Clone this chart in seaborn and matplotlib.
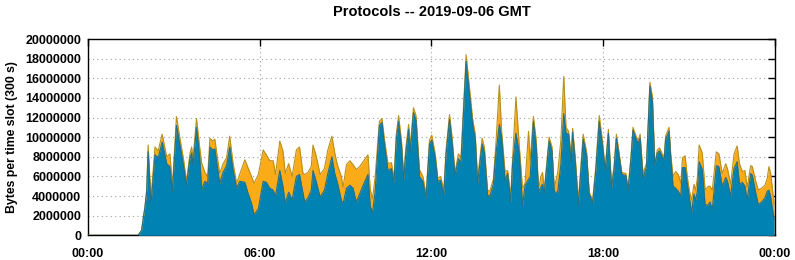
import numpy as np
import pandas as pd
import matplotlib
matplotlib.use("Agg")
import matplotlib.pyplot as plt
import seaborn as sns

# hour of day of each sample, stacked total (top of orange) and blue layer, in millions of bytes
hours = [
    0.00, 1.75, 1.87, 1.99, 2.05, 2.10, 2.20, 2.34, 2.45, 2.59, 2.75, 2.86, 2.95, 3.09, 3.21, 3.33,
    3.44, 3.56, 3.62, 3.67, 3.79, 3.90, 3.97, 4.08, 4.18, 4.26, 4.35, 4.43, 4.60, 4.72, 4.84, 4.95,
    5.07, 5.19, 5.30, 5.48, 5.59, 5.71, 5.80, 5.95, 6.12, 6.23, 6.35, 6.47, 6.55, 6.70, 6.81, 6.89,
    7.01, 7.13, 7.28, 7.39, 7.51, 7.57, 7.68, 7.80, 7.86, 7.97, 8.11, 8.26, 8.38, 8.52, 8.62, 8.71,
    8.85, 8.91, 9.03, 9.15, 9.26, 9.37, 9.49, 9.61, 9.78, 9.86, 9.94, 10.03, 10.18, 10.27, 10.36, 10.48,
    10.60, 10.69, 10.77, 10.85, 10.95, 11.03, 11.10, 11.20, 11.26, 11.37, 11.46, 11.58, 11.70, 11.81, 11.93, 12.01,
    12.13, 12.22, 12.32, 12.43, 12.51, 12.63, 12.72, 12.82, 12.94, 13.03, 13.21, 13.33, 13.44, 13.53, 13.61, 13.77,
    13.85, 13.96, 14.04, 14.16, 14.25, 14.37, 14.45, 14.57, 14.66, 14.77, 14.83, 14.95, 15.07, 15.18, 15.27, 15.39,
    15.45, 15.56, 15.66, 15.74, 15.82, 15.88, 15.94, 16.11, 16.21, 16.29, 16.41, 16.52, 16.62, 16.70, 16.79, 16.88,
    16.93, 17.02, 17.13, 17.30, 17.42, 17.51, 17.63, 17.74, 17.86, 17.97, 18.07, 18.18, 18.29, 18.38, 18.46, 18.55,
    18.65, 18.79, 18.87, 18.97, 19.04, 19.16, 19.22, 19.29, 19.39, 19.51, 19.63, 19.72, 19.80, 19.89, 19.97, 20.06,
    20.13, 20.18, 20.30, 20.36, 20.44, 20.53, 20.62, 20.71, 20.77, 20.86, 20.94, 21.02, 21.09, 21.17, 21.23, 21.29,
    21.35, 21.46, 21.56, 21.67, 21.73, 21.81, 21.95, 22.04, 22.16, 22.28, 22.34, 22.45, 22.57, 22.68, 22.76, 22.86,
    22.95, 23.03, 23.15, 23.21, 23.33, 23.42, 23.53, 23.65, 23.73, 23.79, 23.85, 23.97,
]
total_mb = [
    0, 0, 0.5, 2.9, 4.6, 9.2, 3.8, 9.0, 8.6, 10.3, 8.0, 8.3, 5.1, 12.1, 9.9, 7.9,
    5.5, 8.3, 9.0, 7.8, 11.9, 9.0, 7.4, 6.4, 6.0, 9.9, 9.6, 9.8, 6.3, 7.3, 7.9, 10.1,
    7.3, 5.3, 6.2, 7.7, 6.9, 6.0, 5.3, 6.2, 8.7, 8.2, 7.6, 7.6, 6.2, 9.6, 8.6, 6.3,
    7.3, 6.0, 8.7, 9.0, 6.3, 6.2, 6.4, 7.0, 9.2, 8.1, 6.2, 6.8, 8.7, 10.1, 8.4, 7.2,
    6.0, 4.9, 7.2, 7.6, 7.2, 6.7, 7.0, 7.5, 8.2, 4.7, 3.7, 5.9, 11.6, 11.9, 9.7, 7.3,
    7.4, 5.8, 10.3, 12.2, 9.7, 6.0, 8.8, 11.3, 9.1, 13.0, 12.2, 6.7, 6.0, 4.2, 9.7, 10.2,
    8.3, 5.8, 6.0, 4.6, 8.8, 12.3, 10.0, 6.4, 8.3, 7.9, 18.4, 15.0, 11.8, 10.3, 5.7, 9.9,
    8.9, 4.6, 4.5, 5.7, 9.3, 15.3, 10.6, 6.5, 6.6, 4.0, 7.6, 14.1, 9.0, 4.8, 5.3, 10.6,
    7.6, 12.1, 9.7, 4.6, 6.0, 6.4, 4.6, 10.0, 9.0, 4.8, 6.4, 9.7, 16.2, 11.0, 10.6, 8.1,
    10.9, 8.1, 3.5, 10.3, 8.5, 4.4, 3.6, 7.0, 12.2, 9.7, 6.8, 10.8, 5.1, 7.1, 10.3, 8.5,
    6.4, 6.3, 4.8, 8.1, 11.0, 10.0, 9.7, 10.3, 6.3, 7.3, 15.6, 14.1, 7.3, 8.7, 8.9, 8.3,
    8.0, 10.1, 11.0, 8.2, 6.0, 6.5, 6.2, 5.3, 7.9, 8.1, 5.9, 4.4, 3.6, 5.2, 4.6, 5.9,
    9.2, 8.4, 4.6, 5.0, 5.0, 4.6, 8.5, 8.3, 6.3, 7.3, 6.8, 5.2, 8.3, 9.1, 7.3, 6.5,
    6.6, 4.9, 7.1, 7.0, 5.5, 4.6, 4.8, 5.1, 5.8, 7.0, 6.3, 3.2,
]
blue_mb = [
    0, 0, 0.5, 2.9, 4.5, 8.5, 3.1, 8.2, 7.9, 9.5, 7.3, 7.0, 4.5, 11.2, 9.2, 7.2,
    5.1, 7.8, 8.4, 7.2, 11.0, 8.0, 4.7, 5.5, 5.3, 9.0, 8.7, 8.8, 5.3, 6.4, 7.1, 9.0,
    6.6, 4.8, 5.5, 5.4, 4.3, 3.3, 2.1, 2.7, 5.5, 5.4, 4.8, 4.6, 4.0, 6.6, 5.0, 3.3,
    4.4, 3.6, 6.0, 6.2, 4.3, 3.4, 3.8, 4.6, 6.6, 5.5, 3.9, 4.6, 6.3, 8.0, 6.3, 5.4,
    3.6, 3.2, 4.8, 5.1, 4.8, 3.4, 4.2, 5.1, 6.2, 3.0, 2.3, 4.4, 11.2, 11.5, 9.2, 6.6,
    6.8, 5.3, 9.8, 11.6, 9.2, 5.6, 8.3, 10.8, 8.5, 12.5, 11.7, 6.0, 5.5, 3.7, 9.3, 9.7,
    7.9, 5.5, 5.6, 4.1, 8.3, 11.8, 9.5, 6.1, 7.8, 7.4, 17.7, 14.3, 11.3, 9.8, 5.3, 9.3,
    8.4, 4.1, 4.0, 5.2, 8.3, 11.3, 10.0, 5.6, 6.3, 3.3, 7.2, 10.4, 8.3, 3.0, 5.1, 5.7,
    6.0, 11.6, 9.0, 4.4, 4.9, 5.2, 4.3, 9.6, 8.6, 4.4, 4.4, 7.2, 12.4, 10.4, 10.3, 7.5,
    10.5, 7.6, 3.0, 9.8, 8.1, 4.2, 3.3, 6.6, 11.6, 9.2, 6.6, 10.4, 4.8, 6.8, 9.9, 8.2,
    6.2, 6.1, 4.6, 7.8, 10.7, 9.7, 9.4, 9.9, 5.8, 7.0, 15.2, 13.6, 7.1, 8.4, 8.6, 8.0,
    7.7, 9.8, 10.6, 7.9, 5.0, 4.8, 4.5, 4.0, 6.9, 6.9, 5.2, 3.6, 2.3, 4.2, 3.6, 4.5,
    7.5, 6.7, 3.1, 3.1, 3.4, 2.6, 7.1, 7.0, 5.0, 5.9, 5.5, 4.0, 6.8, 7.5, 5.2, 5.4,
    5.0, 3.6, 6.3, 6.1, 4.3, 3.1, 3.4, 3.8, 4.5, 4.6, 3.9, 1.6,
]

y_ticks = list(range(0, 20000001, 2000000))
x_ticks = [0, 6, 12, 18, 24]
x_labels = ["00:00", "06:00", "12:00", "18:00", "00:00"]

BLUE = "#0083b3"
ORANGE = "#fcab18"

df = pd.DataFrame({"hour": hours,
                   "total": np.array(total_mb) * 1e6,
                   "blue": np.array(blue_mb) * 1e6})

sns.set_style("white")
plt.rcParams["font.family"] = ["Liberation Sans", "DejaVu Sans"]
plt.rcParams["font.weight"] = "bold"
plt.rcParams["text.color"] = "black"
plt.rcParams["axes.labelcolor"] = "black"

fig = plt.figure(figsize=(7.95, 2.60), dpi=100)
ax = fig.add_axes([0.1107, 0.095, 0.8641, 0.755])

ax.fill_between(df["hour"], 0, df["total"], color=ORANGE, linewidth=0, zorder=2)
ax.fill_between(df["hour"], 0, df["blue"], color=BLUE, linewidth=0, zorder=3)
sns.lineplot(data=df, x="hour", y="total", color="#b8901c", linewidth=0.8, ax=ax, zorder=4)
sns.lineplot(data=df, x="hour", y="blue", color="#22708c", linewidth=0.8, ax=ax, zorder=5)

ax.set_xlim(0, 24)
ax.set_ylim(0, 20000000)
ax.set_xticks(x_ticks)
ax.set_xticklabels(x_labels)
ax.set_yticks(y_ticks)
ax.set_yticklabels([str(v) for v in y_ticks])

ax.grid(True, color="#a0a0a0", linestyle=(0, (1, 3)), linewidth=0.8)
ax.set_axisbelow(True)
ax.tick_params(axis="y", direction="in", length=5, width=1, right=True,
               labelsize=9, pad=5, colors="black")
ax.tick_params(axis="x", direction="in", length=5, width=1, top=True,
               labelsize=9, pad=9, colors="black")
for s in ax.spines.values():
    s.set_color("black")
    s.set_linewidth(1.0)

ax.set_xlabel("")
ax.set_ylabel("Bytes per time slot (300 s)", fontsize=8.8, fontweight="bold",
              labelpad=5, color="black")
fig.text(0.543, 0.955, "Protocols -- 2019-09-06 GMT", ha="center", va="center",
         fontsize=10.5, fontweight="bold", color="black")

fig.savefig("out.png", dpi=100)
